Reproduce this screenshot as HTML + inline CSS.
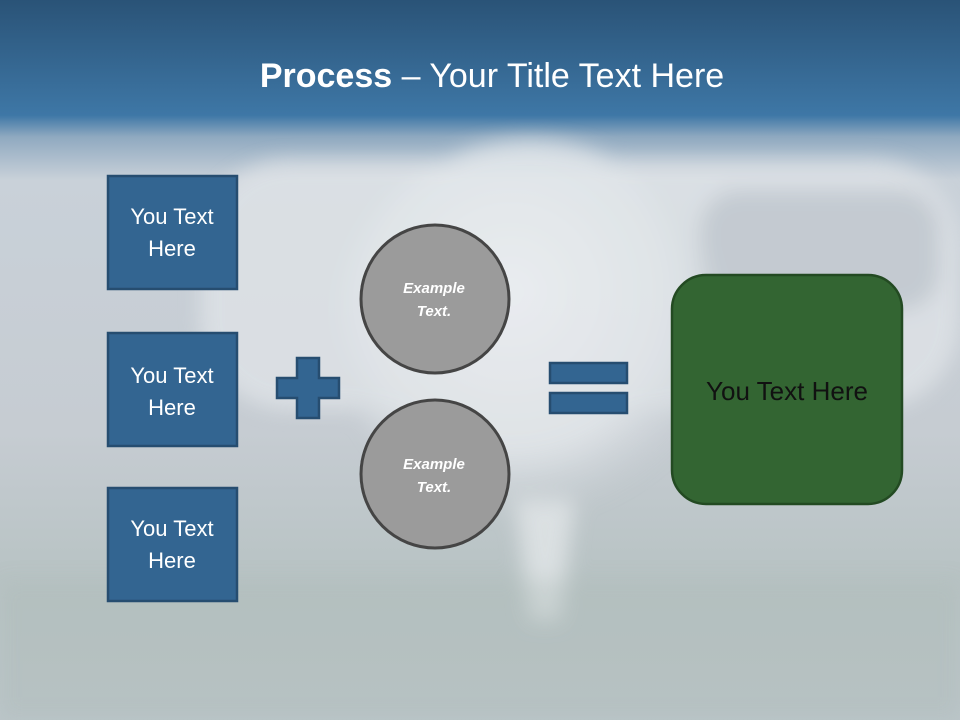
<!DOCTYPE html>
<html><head><meta charset="utf-8"><style>
html,body{margin:0;padding:0;width:960px;height:720px;overflow:hidden;font-family:"Liberation Sans",sans-serif}
</style></head><body>
<svg width="960" height="720" viewBox="0 0 960 720" xmlns="http://www.w3.org/2000/svg">
<defs>
<linearGradient id="bg" x1="0" y1="0" x2="0" y2="1">
<stop offset="0" stop-color="#2a5377"/>
<stop offset="0.16" stop-color="#3e77a6"/>
<stop offset="0.19" stop-color="#8fa9c0"/>
<stop offset="0.25" stop-color="#c9d1d9"/>
<stop offset="0.6" stop-color="#c6ccd2"/>
<stop offset="0.8" stop-color="#b8c3c4"/>
<stop offset="1" stop-color="#bcc6ca"/>
</linearGradient>
<radialGradient id="ball" cx="0.45" cy="0.4" r="0.6">
<stop offset="0" stop-color="#f2f4f6"/>
<stop offset="0.7" stop-color="#e4e8eb"/>
<stop offset="1" stop-color="#d0d6db" stop-opacity="0"/>
</radialGradient>
<filter id="bl"><feGaussianBlur stdDeviation="10"/></filter>
</defs>
<rect width="960" height="720" fill="url(#bg)"/>
<g filter="url(#bl)" opacity="0.8">
<rect x="200" y="160" width="760" height="250" rx="90" fill="#dfe3e7"/>
<rect x="700" y="190" width="240" height="120" rx="40" fill="#c3c9d0"/>
<circle cx="530" cy="330" r="190" fill="url(#ball)"/>
<path d="M515 500 H575 L560 620 H530 Z" fill="#e2e6e8"/>
<rect x="0" y="580" width="960" height="140" fill="#a8b8b2" opacity="0.35"/>
</g>
<text x="492" y="87" text-anchor="middle" fill="#fff" font-size="34"><tspan font-weight="bold">Process</tspan> – Your Title Text Here</text>
<g fill="#336591" stroke="#264d70" stroke-width="2.5">
<rect x="108" y="176" width="129" height="113"/>
<rect x="108" y="333" width="129" height="113"/>
<rect x="108" y="488" width="129" height="113"/>
<path d="M297 358 H319 V378 H339 V398 H319 V418 H297 V398 H277 V378 H297 Z"/>
<rect x="550" y="363" width="77" height="20"/>
<rect x="550" y="393" width="77" height="20"/>
</g>
<g fill="#fff" font-size="22" text-anchor="middle">
<text x="172" y="224">You Text</text><text x="172" y="256">Here</text>
<text x="172" y="383">You Text</text><text x="172" y="415">Here</text>
<text x="172" y="536">You Text</text><text x="172" y="568">Here</text>
</g>
<g fill="#9b9b9b" stroke="#454545" stroke-width="3">
<circle cx="435" cy="299" r="74"/>
<circle cx="435" cy="474" r="74"/>
</g>
<g fill="#fff" font-size="15" font-weight="bold" font-style="italic" text-anchor="middle">
<text x="434" y="293">Example</text><text x="434" y="316">Text.</text>
<text x="434" y="469">Example</text><text x="434" y="492">Text.</text>
</g>
<rect x="672" y="275" width="230" height="229" rx="34" fill="#336532" stroke="#234a22" stroke-width="2.5"/>
<text x="787" y="400" text-anchor="middle" fill="#111" font-size="26">You Text Here</text>
</svg>
</body></html>
